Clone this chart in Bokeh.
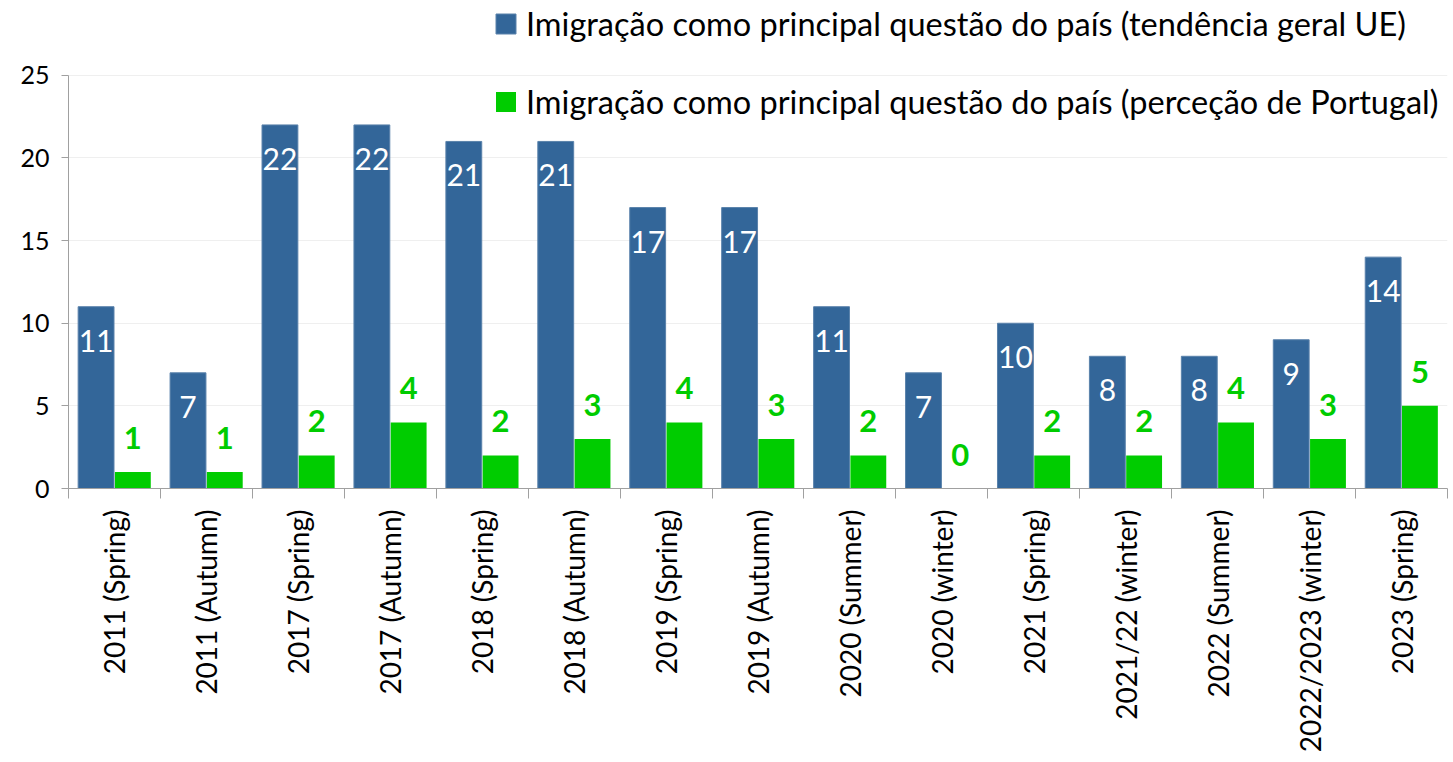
import numpy as np
from math import pi
from bokeh.plotting import figure
from bokeh.models import (Range1d, LinearAxis, FixedTicker, Legend, LegendItem, ColumnDataSource)
from bokeh.core.properties import value
from bokeh.embed import file_html
from bokeh.resources import INLINE

categories = ["2011 (Spring)", "2011 (Autumn)", "2017 (Spring)", "2017 (Autumn)",
              "2018 (Spring)", "2018 (Autumn)", "2019 (Spring)", "2019 (Autumn)",
              "2020 (Summer)", "2020 (winter)", "2021 (Spring)", "2021/22 (winter)",
              "2022 (Summer)", "2022/2023 (winter)", "2023 (Spring)"]
eu_values = [11, 7, 22, 22, 21, 21, 17, 17, 11, 7, 10, 8, 8, 9, 14]
pt_values = [1, 1, 2, 4, 2, 3, 4, 3, 2, 0, 2, 2, 4, 3, 5]
y_ticks = [0, 5, 10, 15, 20, 25]
series_names = ["Imigração como principal questão do país (tendência geral UE)",
                "Imigração como principal questão do país (perceção de Portugal)"]

BLUE = "#336699"
GREEN = "#00CC00"
FONT = "Lato"

n = len(categories)
idx = np.arange(n)
centers = idx + 0.5

FRAME_BOTTOM = 489
Y_TOP = 25 * FRAME_BOTTOM / 414.0  # frame spans to the top of the canvas

p = figure(width=1448, height=755, output_backend="svg", toolbar_location=None,
           x_range=Range1d(0, n), y_range=Range1d(0, Y_TOP),
           min_border_left=68, min_border_right=1, min_border_top=0,
           min_border_bottom=755 - FRAME_BOTTOM)
p.outline_line_color = None
p.background_fill_color = "white"

src = ColumnDataSource(dict(xb=idx + 0.3, xg=idx + 0.7, eu=eu_values, pt=pt_values,
                            eu_txt=[str(v) for v in eu_values], pt_txt=[str(v) for v in pt_values]))

rb = p.vbar(x="xb", top="eu", width=0.39, source=src, fill_color=BLUE, line_color="#5a82ab", line_width=1)
rg = p.vbar(x="xg", top="pt", width=0.39, source=src, fill_color=GREEN, line_color=None)

p.text(x="xb", y="eu", text="eu_txt", source=src, text_color="white", text_font=value(FONT),
       text_font_size="30px", text_align="center", text_baseline="middle", y_offset=34)
p.text(x="xg", y="pt", text="pt_txt", source=src, text_color=GREEN, text_font=value(FONT),
       text_font_size="31px", text_font_style="bold", text_align="center", text_baseline="middle", y_offset=-34)

# y axis
ya = p.yaxis[0]
ya.ticker = FixedTicker(ticks=y_ticks)
ya.bounds = (0, 25)
ya.axis_line_color = "#a0a0a0"
ya.major_tick_line_color = "#a0a0a0"
ya.major_tick_in = 0
ya.major_tick_out = 7
ya.minor_tick_line_color = None
ya.major_label_text_font = FONT
ya.major_label_text_font_size = "25px"
ya.major_label_text_color = "black"
ya.major_label_standoff = 12

p.ygrid.ticker = FixedTicker(ticks=y_ticks)
p.ygrid.grid_line_color = "#efefef"
p.xgrid.grid_line_color = None

# x axis: separators
xa = p.xaxis[0]
xa.ticker = FixedTicker(ticks=list(range(n + 1)))
xa.major_label_overrides = {i: "" for i in range(n + 1)}
xa.major_label_text_font_size = "1px"
xa.major_label_standoff = 0
xa.axis_line_color = "#a0a0a0"
xa.major_tick_line_color = "#a0a0a0"
xa.major_tick_in = 0
xa.major_tick_out = 10
xa.minor_tick_line_color = None

# x axis: category labels
xa2 = LinearAxis(ticker=FixedTicker(ticks=list(centers)),
                 major_label_overrides={float(c): lab for c, lab in zip(centers, categories)})
xa2.axis_line_color = None
xa2.major_tick_line_color = None
xa2.minor_tick_line_color = None
xa2.major_label_orientation = pi / 2
xa2.major_label_text_font = FONT
xa2.major_label_text_font_size = "28px"
xa2.major_label_text_color = "black"
xa2.major_label_standoff = 5
p.add_layout(xa2, "below")

legend = Legend(items=[LegendItem(label=series_names[0], renderers=[rb]),
                       LegendItem(label=series_names[1], renderers=[rg])],
                location=(425, 367), orientation="vertical")
legend.background_fill_alpha = 0
legend.border_line_color = None
legend.padding = 0
legend.margin = 0
legend.spacing = 39
legend.glyph_width = 25
legend.glyph_height = 25
legend.label_standoff = 8
legend.label_text_font = FONT
legend.label_text_font_size = "32.5px"
legend.label_text_color = "black"
p.add_layout(legend, "center")

open("out.html", "w").write(file_html(p, INLINE))
